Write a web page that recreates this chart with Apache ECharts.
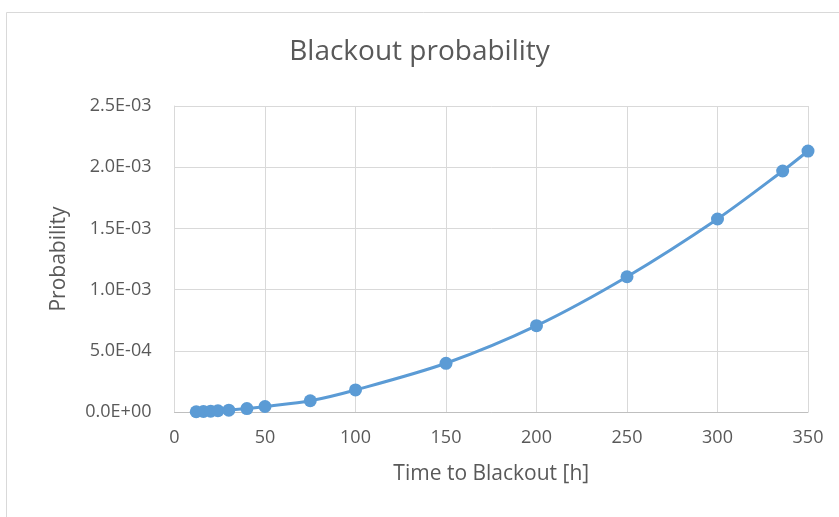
<!DOCTYPE html>
<html>
<head>
<meta charset="utf-8">
<script src="https://cdn.jsdelivr.net/npm/echarts@6/dist/echarts.min.js"></script>
<style>
  html, body { margin: 0; padding: 0; background: #ffffff; }
  #chart { width: 839px; height: 517px; }
</style>
</head>
<body>
<div id="chart"></div>
<script>
// Hours until blackout and the matching probability
const hours = [12, 16, 20, 24, 30, 40, 50, 75, 100, 150, 200, 250, 300, 336, 350];
const probability = [2e-6, 4e-6, 7e-6, 1.0e-5, 1.5e-5, 2.8e-5, 4.5e-5, 9.2e-5, 1.8e-4, 3.98e-4, 7.05e-4, 1.105e-3, 1.577e-3, 1.969e-3, 2.132e-3];
const xTicks = [0, 50, 100, 150, 200, 250, 300, 350];
const yTicks = [0, 5e-4, 1e-3, 1.5e-3, 2e-3, 2.5e-3];

const textColor = '#595959';
const fontFamily = '"Open Sans", "Noto Sans", sans-serif';

// Scientific label like 2.5E-03
function sci(v) {
  const s = Number(v).toExponential(1).toUpperCase();
  const m = s.match(/^(-?[\d.]+)E([+-])(\d+)$/);
  if (!m) return s;
  return m[1] + 'E' + m[2] + (m[3].length < 2 ? '0' + m[3] : m[3]);
}

const chart = echarts.init(document.getElementById('chart'), null, { renderer: 'canvas' });
chart.setOption({
  backgroundColor: '#ffffff',
  animation: false,
  graphic: [{
    type: 'rect',
    shape: { x: 6.5, y: 12.5, width: 850, height: 520 },
    style: { fill: 'none', stroke: '#d9d9d9', lineWidth: 1 },
    silent: true
  }],
  title: {
    text: 'Blackout probability',
    left: 'center',
    top: 33,
    textStyle: { color: textColor, fontSize: 28, fontWeight: 'normal', fontFamily: fontFamily }
  },
  grid: { left: 174.5, right: 31, top: 106, bottom: 105 },
  xAxis: {
    type: 'value',
    min: xTicks[0],
    max: xTicks[xTicks.length - 1],
    interval: xTicks[1] - xTicks[0],
    name: 'Time to Blackout [h]',
    nameLocation: 'middle',
    nameGap: 52,
    nameTextStyle: { color: textColor, fontSize: 21, fontFamily: fontFamily },
    axisLine: { show: true, lineStyle: { color: '#bfbfbf', width: 1 } },
    axisTick: { show: false },
    splitLine: { show: true, lineStyle: { color: '#d9d9d9', width: 1 } },
    axisLabel: { color: textColor, fontSize: 18, fontFamily: fontFamily, margin: 17 }
  },
  yAxis: {
    type: 'value',
    min: yTicks[0],
    max: yTicks[yTicks.length - 1],
    interval: yTicks[1] - yTicks[0],
    name: 'Probability',
    nameLocation: 'middle',
    nameGap: 105,
    nameTextStyle: { color: textColor, fontSize: 21, fontFamily: fontFamily },
    axisLine: { show: true, lineStyle: { color: '#d9d9d9', width: 1 } },
    axisTick: { show: false },
    splitLine: { show: true, lineStyle: { color: '#d9d9d9', width: 1 } },
    axisLabel: { color: textColor, fontSize: 18, fontFamily: fontFamily, margin: 23, formatter: sci }
  },
  series: [{
    type: 'line',
    data: hours.map((h, i) => [h, probability[i]]),
    smooth: 0.3,
    symbol: 'circle',
    symbolSize: 13,
    lineStyle: { color: '#5b9bd5', width: 3 },
    itemStyle: { color: '#5b9bd5' }
  }]
});
</script>
</body>
</html>
